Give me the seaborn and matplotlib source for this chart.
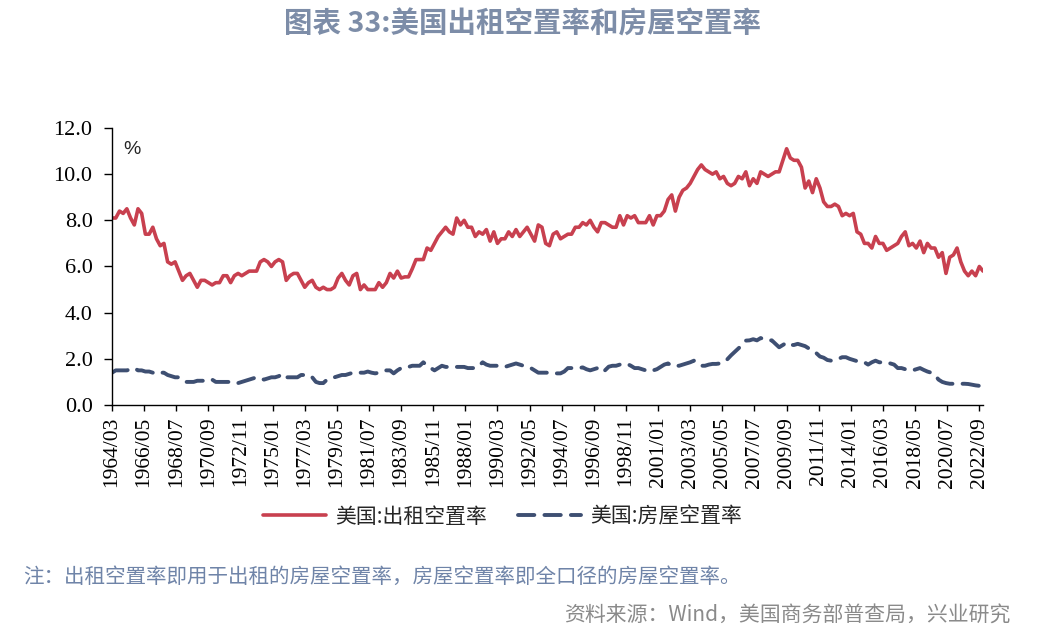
import numpy as np
import pandas as pd
import matplotlib
matplotlib.use("Agg")
import matplotlib.pyplot as plt
import matplotlib.dates as mdates
import seaborn as sns

# -- Data (quarterly, 1964Q1 - 2022Q4, %) --------------------------------------
start_month = "1964-03-01"

rental_vacancy = [
    8.1, 8.1, 8.4, 8.3,   8.5, 8.1, 7.8, 8.5,   8.3, 7.4, 7.4, 7.7,   7.2, 6.9, 7.0, 6.2,   # 1964-67
    6.1, 6.2, 5.8, 5.4,   5.6, 5.7, 5.4, 5.1,   5.4, 5.4, 5.3, 5.2,   5.3, 5.3, 5.6, 5.6,   # 1968-71
    5.3, 5.6, 5.7, 5.6,   5.7, 5.8, 5.8, 5.8,   6.2, 6.3, 6.2, 6.0,   6.2, 6.3, 6.2, 5.4,   # 1972-75
    5.6, 5.7, 5.7, 5.4,   5.1, 5.3, 5.4, 5.1,   5.0, 5.1, 5.0, 5.0,   5.1, 5.5, 5.7, 5.4,   # 1976-79
    5.2, 5.6, 5.7, 5.0,   5.2, 5.0, 5.0, 5.0,   5.3, 5.1, 5.3, 5.7,   5.5, 5.8, 5.5, 5.55,  # 1980-83
    5.55, 5.9, 6.3, 6.3,  6.3, 6.8, 6.7, 7.0,   7.3, 7.5, 7.7, 7.5,   7.4, 8.1, 7.8, 8.0,   # 1984-87
    7.7, 7.7, 7.3, 7.5,   7.4, 7.6, 7.1, 7.5,   7.0, 7.2, 7.2, 7.5,   7.3, 7.6, 7.3, 7.5,   # 1988-91
    7.7, 7.4, 7.1, 7.8,   7.7, 7.0, 6.9, 7.4,   7.5, 7.2, 7.3, 7.4,   7.4, 7.7, 7.7, 7.9,   # 1992-95
    7.8, 8.0, 7.7, 7.5,   7.9, 7.9, 7.8, 7.7,   7.7, 8.2, 7.8, 8.2,   8.1, 8.2, 7.9, 7.9,   # 1996-99
    7.9, 8.2, 7.8, 8.2,   8.2, 8.4, 8.9, 9.1,   8.4, 9.0, 9.3, 9.4,   9.6, 9.9, 10.2, 10.4, # 2000-03
    10.2, 10.1, 10.0, 10.1, 9.8, 9.9, 9.6, 9.5,  9.6, 9.9, 9.8, 10.1,  9.5, 9.8, 9.6, 10.1, # 2004-07
    10.0, 9.9, 10.0, 10.1, 10.1, 10.6, 11.1, 10.7, 10.6, 10.6, 10.3, 9.4, 9.7, 9.2, 9.8, 9.4, # 2008-11
    8.8, 8.6, 8.6, 8.7,   8.6, 8.2, 8.3, 8.2,   8.3, 7.5, 7.4, 7.0,   7.0, 6.8, 7.3, 7.0,   # 2012-15
    7.0, 6.7, 6.8, 6.9,   7.0, 7.3, 7.5, 6.9,   7.0, 6.8, 7.1, 6.6,   7.0, 6.8, 6.8, 6.4,   # 2016-19
    6.6, 5.7, 6.4, 6.5,   6.8, 6.2, 5.8, 5.6,   5.8, 5.6, 6.0, 5.8,                         # 2020-22
]

homeowner_vacancy = [
    1.4, 1.5, 1.5, 1.5,   1.5, 1.55, 1.6, 1.5,  1.5, 1.45, 1.45, 1.4, 1.35, 1.4, 1.4, 1.3, # 1964-67
    1.25, 1.2, 1.2, 1.1,  1.0, 1.0, 1.0, 1.05,  1.05, 1.05, 1.1, 1.1, 1.0, 1.0, 1.0, 1.0, # 1968-71
    1.0, 1.0, 0.95, 1.0,  1.05, 1.1, 1.15, 1.2, 1.15, 1.1, 1.15, 1.2, 1.2, 1.25, 1.35, 1.2, # 1972-75
    1.2, 1.2, 1.2, 1.3,   1.3, 1.3, 1.2, 1.0,   0.95, 0.95, 1.1, 1.15, 1.2, 1.25, 1.3, 1.3, # 1976-79
    1.35, 1.4, 1.4, 1.4,  1.4, 1.45, 1.4, 1.37, 1.4, 1.45, 1.5, 1.5,  1.37, 1.5, 1.6, 1.6,  # 1980-83
    1.65, 1.7, 1.7, 1.7,  1.85, 1.7, 1.6, 1.5,  1.6, 1.7, 1.65, 1.65, 1.65, 1.65, 1.65, 1.65, # 1984-87
    1.6, 1.6, 1.6, 1.7,   1.85, 1.75, 1.7, 1.7, 1.7, 1.65, 1.65, 1.7, 1.75, 1.8, 1.75, 1.7, # 1988-91
    1.65, 1.6, 1.5, 1.4,  1.4, 1.4, 1.4, 1.37,  1.37, 1.37, 1.45, 1.6, 1.6, 1.6, 1.6, 1.63, # 1992-95
    1.55, 1.5, 1.55, 1.6, 1.66, 1.5, 1.66, 1.7, 1.7, 1.75, 1.78, 1.78, 1.7, 1.6, 1.6, 1.55, # 1996-99
    1.5, 1.55, 1.5, 1.55, 1.65, 1.75, 1.8, 1.7, 1.7, 1.7, 1.75, 1.8,  1.85, 1.92, 1.8, 1.7, # 2000-03
    1.7, 1.75, 1.78, 1.78, 1.8, 1.85, 1.98, 2.15, 2.3, 2.45, 2.6, 2.79, 2.8, 2.85, 2.8, 2.9, # 2004-07
    2.85, 2.8, 2.8, 2.65, 2.5, 2.6, 2.7, 2.6,   2.6, 2.65, 2.6, 2.55, 2.45, 2.35, 2.25, 2.1, # 2008-11
    2.05, 1.95, 1.92, 1.95, 2.0, 2.07, 2.07, 2.0, 1.95, 1.9, 1.85, 1.85, 1.75, 1.85, 1.92, 1.85, # 2012-15
    1.85, 1.85, 1.8, 1.75, 1.6, 1.6, 1.55, 1.5,  1.5, 1.55, 1.6, 1.52, 1.45, 1.4, 1.3, 1.1, # 2016-19
    1.0, 0.95, 0.92, 0.92, 0.92, 0.92, 0.92, 0.91, 0.88, 0.85, 0.83, 0.82,                  # 2020-22
]

series_names = ["美国:出租空置率", "美国:房屋空置率"]
y_ticks = [0.0, 2.0, 4.0, 6.0, 8.0, 10.0, 12.0]

title_text = "图表 33:美国出租空置率和房屋空置率"
note_text = "注：出租空置率即用于出租的房屋空置率，房屋空置率即全口径的房屋空置率。"
source_text = "资料来源：Wind，美国商务部普查局，兴业研究"

dates = pd.date_range(start_month, periods=len(rental_vacancy), freq="3MS")
df = pd.DataFrame({"date": dates,
                   series_names[0]: rental_vacancy,
                   series_names[1]: homeowner_vacancy})
tick_dates = pd.date_range(start_month, "2022-09-01", freq="26MS")

# -- Style ---------------------------------------------------------------------
sns.set_theme(style="ticks")
plt.rcParams["font.family"] = ["Noto Sans CJK SC", "DejaVu Sans"]

RED = "#C8404F"
BLUE = "#3E4F72"
SERIF = ["Liberation Serif", "DejaVu Serif"]

fig = plt.figure(figsize=(10.45, 6.38), dpi=100)
ax = fig.add_axes([0.1072, 0.3652, 0.8335, 0.4342])

sns.lineplot(data=df, x="date", y=series_names[0], ax=ax, color=RED,
             linewidth=2.6, label=series_names[0])
sns.lineplot(data=df, x="date", y=series_names[1], ax=ax, color=BLUE,
             linewidth=2.8, label=series_names[1])
ax.lines[1].set_dashes([4.2, 2.6])
ax.lines[1].set_dash_capstyle("round")

ax.set_xlim(dates[0], dates[-1])
ax.set_ylim(0, 12)
ax.set_yticks(y_ticks)
ax.set_yticklabels([f"{v:.1f}" for v in y_ticks], fontsize=16, family=SERIF)
ax.set_xticks(tick_dates)
ax.xaxis.set_major_formatter(mdates.DateFormatter("%Y/%m"))
for lab in ax.get_xticklabels():
    lab.set_rotation(90)
    lab.set_fontsize(15.5)
    lab.set_family(SERIF)
ax.set_xlabel("")
ax.set_ylabel("")
sns.despine(ax=ax)
for side in ["left", "bottom"]:
    ax.spines[side].set_linewidth(1.0)
    ax.spines[side].set_color("black")
ax.tick_params(axis="both", direction="out", width=1.0, color="black", labelcolor="black")
ax.tick_params(axis="y", length=6, pad=8)
ax.tick_params(axis="x", length=4.5, pad=4)

ax.text(0.023, 0.924, "%", transform=ax.transAxes, fontsize=14,
        family=["Liberation Sans", "DejaVu Sans"], ha="center", va="center")

leg = ax.legend(loc="center", bbox_to_anchor=(0.481, 0.19), bbox_transform=fig.transFigure,
                ncol=2, frameon=False, fontsize=15, handlelength=3.0,
                columnspacing=1.5, handletextpad=0.45)

fig.text(0.5, 0.962, title_text, ha="center", va="center", fontsize=20.5,
         fontweight="bold", color="#7D8DA8")
fig.text(0.022, 0.095, note_text, ha="left", va="center", fontsize=14.8,
         color="#6F84A8")
fig.text(0.967, 0.037, source_text, ha="right", va="center", fontsize=15,
         color="#8A8A8A")

fig.savefig("out.png", dpi=100)
plt.close(fig)
